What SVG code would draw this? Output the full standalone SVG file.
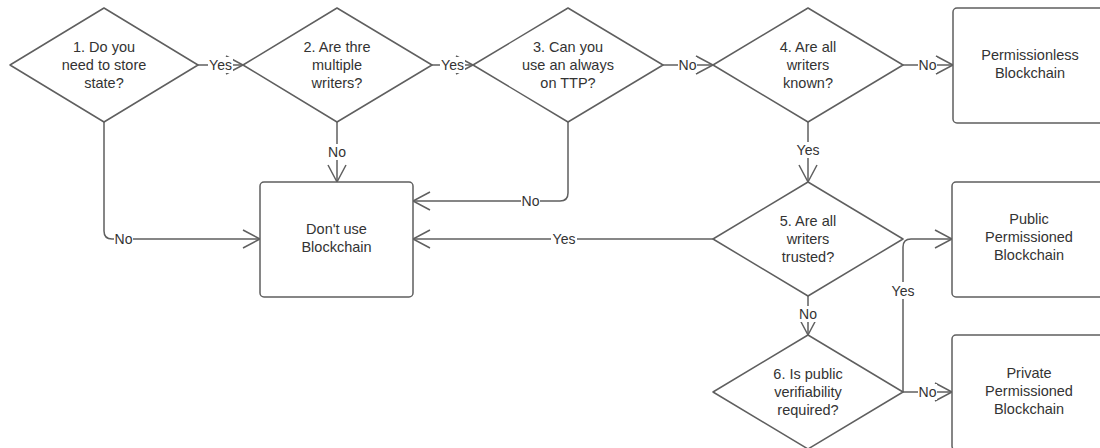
<svg xmlns="http://www.w3.org/2000/svg" width="1100" height="448" viewBox="0 0 1100 448">
  <style>
    .shape { fill: #ffffff; stroke: #5f5f5f; stroke-width: 1.5; stroke-linejoin: round; }
    .txt { font-family: "Liberation Sans", Arial, sans-serif; font-size: 14.5px; fill: #333333; text-anchor: middle; }
    .lbl { font-family: "Liberation Sans", Arial, sans-serif; font-size: 14px; fill: #333333; text-anchor: middle; }
    .edge { fill: none; stroke: #5f5f5f; stroke-width: 1.5; marker-end: url(#openArrow); }
    .plain { fill: none; stroke: #5f5f5f; stroke-width: 1.5; }
    .lblbg { fill: #ffffff; }
  </style>
  <defs>
    <marker id="openArrow" markerUnits="userSpaceOnUse" markerWidth="20" markerHeight="22" refX="18" refY="10" orient="auto" viewBox="0 0 20 20">
      <path d="M1,1 L18,10 L1,19" fill="none" stroke="#5f5f5f" stroke-width="1.5"/>
    </marker>
  </defs>
  <rect width="1100" height="448" fill="#ffffff"/>

  <!-- connectors -->
  <g id="connectors">
    <path class="edge" d="M198,65 L243,65"/>
    <path class="edge" d="M432,65 L473,65"/>
    <path class="edge" d="M663,65 L713,65"/>
    <path class="edge" d="M903,65 L953,65"/>
    <path class="edge" d="M337,122 L337,182"/>
    <path class="edge" d="M568,122 L568,193 Q568,201 560,201 L413,201"/>
    <path class="edge" d="M104,122 L104,231 Q104,239 112,239 L260,239"/>
    <path class="edge" d="M713,239 L413,239"/>
    <path class="edge" d="M808,122 L808,182"/>
    <path class="edge" d="M808,296 L808,335"/>
    <path class="edge" d="M903,392 L952,392"/>
    <path class="edge" d="M903,392 L903,247 Q903,239 911,239 L952,239"/>

    <!-- connector labels -->
    <g id="edge-labels">
      <rect class="lblbg" x="208" y="57" width="25" height="16"/>
      <text class="lbl" x="220.5" y="70">Yes</text>
      <rect class="lblbg" x="440" y="57" width="25" height="16"/>
      <text class="lbl" x="452.5" y="70">Yes</text>
      <rect class="lblbg" x="678" y="57" width="19" height="16"/>
      <text class="lbl" x="687.5" y="70">No</text>
      <rect class="lblbg" x="918" y="57" width="19" height="16"/>
      <text class="lbl" x="927.5" y="70">No</text>
      <rect class="lblbg" x="327" y="144" width="20" height="16"/>
      <text class="lbl" x="337" y="157">No</text>
      <rect class="lblbg" x="795" y="142" width="26" height="16"/>
      <text class="lbl" x="808" y="155">Yes</text>
      <rect class="lblbg" x="521" y="193" width="19" height="16"/>
      <text class="lbl" x="530.5" y="206">No</text>
      <rect class="lblbg" x="114" y="231" width="19" height="16"/>
      <text class="lbl" x="123.5" y="244">No</text>
      <rect class="lblbg" x="551" y="231" width="26" height="16"/>
      <text class="lbl" x="564" y="244">Yes</text>
      <rect class="lblbg" x="798" y="306" width="20" height="16"/>
      <text class="lbl" x="808" y="319">No</text>
      <rect class="lblbg" x="890" y="282" width="26" height="17"/>
      <text class="lbl" x="903" y="296">Yes</text>
      <rect class="lblbg" x="918" y="384" width="19" height="16"/>
      <text class="lbl" x="927.5" y="397">No</text>
    </g>
  </g>

  <!-- decisions -->
  <g id="q1-store-state">
    <polygon class="shape" points="104,8 198,65 104,122 10,65"/>
    <text class="txt" x="104" y="52">1. Do you</text>
    <text class="txt" x="104" y="70">need to store</text>
    <text class="txt" x="104" y="88">state?</text>
  </g>
  <g id="q2-multiple-writers">
    <polygon class="shape" points="337,8 432,65 337,122 243,65"/>
    <text class="txt" x="337" y="52">2. Are thre</text>
    <text class="txt" x="337" y="70">multiple</text>
    <text class="txt" x="337" y="88">writers?</text>
  </g>
  <g id="q3-ttp">
    <polygon class="shape" points="568,8 663,65 568,122 473,65"/>
    <text class="txt" x="568" y="52">3. Can you</text>
    <text class="txt" x="568" y="70">use an always</text>
    <text class="txt" x="568" y="88">on TTP?</text>
  </g>
  <g id="q4-writers-known">
    <polygon class="shape" points="808,8 903,65 808,122 713,65"/>
    <text class="txt" x="808" y="52">4. Are all</text>
    <text class="txt" x="808" y="70">writers</text>
    <text class="txt" x="808" y="88">known?</text>
  </g>
  <g id="q5-writers-trusted">
    <polygon class="shape" points="808,182 903,239 808,296 713,239"/>
    <text class="txt" x="808" y="226">5. Are all</text>
    <text class="txt" x="808" y="244">writers</text>
    <text class="txt" x="808" y="262">trusted?</text>
  </g>
  <g id="q6-public-verifiability">
    <polygon class="shape" points="808,335 903,392 808,449 713,392"/>
    <text class="txt" x="808" y="379">6. Is public</text>
    <text class="txt" x="808" y="397">verifiability</text>
    <text class="txt" x="808" y="415">required?</text>
  </g>

  <!-- outcomes -->
  <g id="dont-use">
    <rect class="shape" x="260" y="182" width="153" height="115" rx="4"/>
    <text class="txt" x="336.5" y="234">Don't use</text>
    <text class="txt" x="336.5" y="252">Blockchain</text>
  </g>
  <g id="permissionless">
    <rect class="shape" x="953" y="8" width="154" height="115" rx="4"/>
    <text class="txt" x="1030" y="60">Permissionless</text>
    <text class="txt" x="1030" y="78">Blockchain</text>
  </g>
  <g id="public-permissioned">
    <rect class="shape" x="952" y="182" width="154" height="115" rx="4"/>
    <text class="txt" x="1029" y="224">Public</text>
    <text class="txt" x="1029" y="242">Permissioned</text>
    <text class="txt" x="1029" y="260">Blockchain</text>
  </g>
  <g id="private-permissioned">
    <rect class="shape" x="952" y="335" width="154" height="115" rx="4"/>
    <text class="txt" x="1029" y="378">Private</text>
    <text class="txt" x="1029" y="396">Permissioned</text>
    <text class="txt" x="1029" y="414">Blockchain</text>
  </g>
</svg>
